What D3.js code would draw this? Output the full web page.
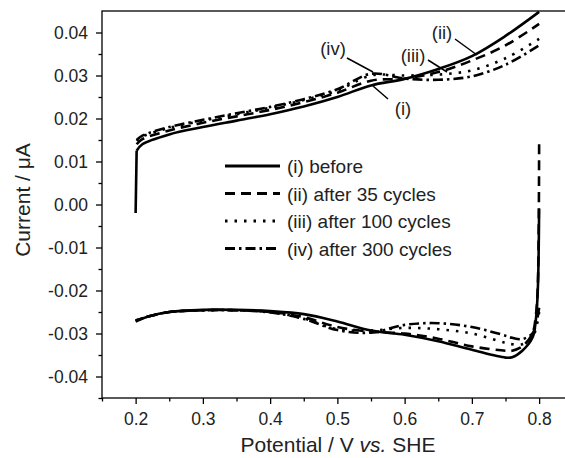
<!DOCTYPE html>
<html>
<head>
<meta charset="utf-8">
<script src="https://cdn.jsdelivr.net/npm/d3@7"></script>
<style>
	body { margin: 0; background: #fff; }
	svg { display: block; font-family: "Liberation Sans", Arial, sans-serif; }
	.axis path, .axis line { stroke: #000; stroke-width: 1.3; }
	.axis text { font-size: 17.5px; fill: #222; }
	.curve { fill: none; stroke: #000; stroke-width: 2.6; stroke-linejoin: round; }
</style>
</head>
<body>
<svg id="chart" width="565" height="458"></svg>
<script>
// upper (anodic) branches, potential in V, current in uA
const potUp = [0.2015, 0.21, 0.25, 0.3, 0.35, 0.4, 0.45, 0.5, 0.55, 0.6, 0.65, 0.7, 0.75, 0.8];
const upBefore = [0.0125, 0.0140, 0.0163, 0.0180, 0.0195, 0.0210, 0.0228, 0.0250, 0.0277, 0.0292, 0.0315, 0.0345, 0.0392, 0.0448];
const up35 = [0.0140, 0.0152, 0.0172, 0.0190, 0.0205, 0.0220, 0.0238, 0.0260, 0.0288, 0.0293, 0.0308, 0.0335, 0.0370, 0.0420];
const up100 = [0.0148, 0.0158, 0.0178, 0.0195, 0.0210, 0.0225, 0.0243, 0.0265, 0.0300, 0.0300, 0.0302, 0.0312, 0.0340, 0.0385];
const up300 = [0.0150, 0.0160, 0.0180, 0.0197, 0.0212, 0.0227, 0.0245, 0.0268, 0.0304, 0.0293, 0.0290, 0.0298, 0.0325, 0.0370];

// lower (cathodic) branches, swept back from 0.8 V
const potDown = [0.8, 0.798, 0.795, 0.79, 0.775, 0.76, 0.75, 0.7, 0.65, 0.6, 0.55, 0.5, 0.45, 0.4, 0.35, 0.3, 0.25, 0.22, 0.2];
const downBefore = [-0.001, -0.020, -0.027, -0.031, -0.0340, -0.0355, -0.0356, -0.0338, -0.0318, -0.0303, -0.0293, -0.0272, -0.0255, -0.0248, -0.0245, -0.0245, -0.0250, -0.0260, -0.0272];
const down35 = [0.014, -0.019, -0.026, -0.030, -0.0330, -0.0340, -0.0340, -0.0330, -0.0312, -0.0300, -0.0296, -0.0285, -0.0262, -0.0250, -0.0246, -0.0246, -0.0250, -0.0260, -0.0270];
const down100 = [-0.025, -0.027, -0.029, -0.031, -0.0325, -0.0325, -0.0322, -0.0300, -0.0290, -0.0287, -0.0293, -0.0290, -0.0265, -0.0250, -0.0246, -0.0246, -0.0250, -0.0260, -0.0270];
const down300 = [-0.024, -0.026, -0.028, -0.030, -0.0313, -0.0310, -0.0305, -0.0285, -0.0276, -0.0280, -0.0298, -0.0292, -0.0266, -0.0251, -0.0246, -0.0246, -0.0250, -0.0260, -0.0270];

// the "before" scan starts at rest potential with a vertical jump
const startBefore = [0.2, -0.002];

const xTicks = [0.2, 0.3, 0.4, 0.5, 0.6, 0.7, 0.8];
const yTicks = [-0.04, -0.03, -0.02, -0.01, 0.00, 0.01, 0.02, 0.03, 0.04];
const xMinor = [0.15, 0.25, 0.35, 0.45, 0.55, 0.65, 0.75, 0.85];
const yMinor = [-0.045, -0.035, -0.025, -0.015, -0.005, 0.005, 0.015, 0.025, 0.035];

const legendLabels = ["(i) before", "(ii) after 35 cycles", "(iii) after 100 cycles", "(iv) after 300 cycles"];
const dashes = [null, "10,6", "2.5,7", "10,4,2.5,4"];

const svg = d3.select("#chart");

const x = d3.scaleLinear().domain([0.15, 0.85]).range([102, 572.75]);
const y = d3.scaleLinear().domain([-0.045, 0.045]).range([398, 11]);

// frame (right side falls outside the picture, as in the original)
svg.append("rect")
	.attr("x", x(0.15)).attr("y", y(0.045))
	.attr("width", x(0.85) - x(0.15)).attr("height", y(-0.045) - y(0.045))
	.attr("fill", "none").attr("stroke", "#000").attr("stroke-width", 1.3);

const xAxis = svg.append("g").attr("class", "axis")
	.attr("transform", `translate(0,${y(-0.045)})`)
	.call(d3.axisBottom(x).tickValues(xTicks).tickSize(6).tickPadding(9).tickFormat(d3.format(".1f")));
xAxis.select(".domain").remove();
svg.append("g").attr("class", "axis")
	.attr("transform", `translate(0,${y(-0.045)})`)
	.call(d3.axisBottom(x).tickValues(xMinor).tickSize(3.5).tickFormat(""))
	.select(".domain").remove();

const yAxis = svg.append("g").attr("class", "axis")
	.attr("transform", `translate(${x(0.15)},0)`)
	.call(d3.axisLeft(y).tickValues(yTicks).tickSize(6).tickPadding(8).tickFormat(d3.format(".2f")));
yAxis.select(".domain").remove();
yAxis.selectAll("text").text(d => d3.format(".2f")(d).replace("−", "-"));
svg.append("g").attr("class", "axis")
	.attr("transform", `translate(${x(0.15)},0)`)
	.call(d3.axisLeft(y).tickValues(yMinor).tickSize(3.5).tickFormat(""))
	.select(".domain").remove();

svg.append("text")
	.attr("x", 338).attr("y", 452)
	.attr("text-anchor", "middle").attr("font-size", 21).attr("fill", "#222")
	.html('Potential / V <tspan font-style="italic">vs.</tspan> SHE');

svg.append("text")
	.attr("transform", "translate(30,200) rotate(-90)")
	.attr("text-anchor", "middle").attr("font-size", 21).attr("fill", "#222")
	.text("Current / μA");

const line = d3.line().x(d => x(d[0])).y(d => y(d[1])).curve(d3.curveCatmullRom.alpha(0.5));
const straight = d3.line().x(d => x(d[0])).y(d => y(d[1]));

const upper = [upBefore, up35, up100, up300];
const lower = [downBefore, down35, down100, down300];

const plot = svg.append("g");
// initial jump of the first scan, drawn straight
plot.append("path").attr("class", "curve")
	.attr("d", straight([startBefore, [potUp[0], upBefore[0]]]));
upper.forEach((vals, i) => {
	const pts = potUp.map((p, k) => [p, vals[k]]);
	plot.append("path").attr("class", "curve")
		.attr("d", line(pts))
		.attr("stroke-dasharray", dashes[i]);
});
lower.forEach((vals, i) => {
	const pts = potDown.map((p, k) => [p, vals[k]]);
	plot.append("path").attr("class", "curve")
		.attr("d", line(pts))
		.attr("stroke-dasharray", dashes[i]);
});

// legend
const legend = svg.append("g");
legendLabels.forEach((lab, i) => {
	const ly = 166 + i * 27.5;
	legend.append("line")
		.attr("x1", 225).attr("x2", 280).attr("y1", ly).attr("y2", ly)
		.attr("stroke", "#000").attr("stroke-width", 3)
		.attr("stroke-dasharray", dashes[i]);
	legend.append("text")
		.attr("x", 287).attr("y", ly + 7)
		.attr("font-size", 19).attr("fill", "#222")
		.text(lab);
});

// curve labels with leader lines
const notes = [
	{ t: "(iv)", tx: 333, ty: 55, x1: 347, y1: 58, x2: 373, y2: 72 },
	{ t: "(i)", tx: 403, ty: 115, x1: 373, y1: 86, x2: 388, y2: 99 },
	{ t: "(iii)", tx: 413, ty: 62, x1: 428, y1: 60, x2: 447, y2: 72 },
	{ t: "(ii)", tx: 442, ty: 39, x1: 455, y1: 39, x2: 477, y2: 55 }
];
notes.forEach(n => {
	svg.append("text").attr("x", n.tx).attr("y", n.ty)
		.attr("text-anchor", "middle").attr("font-size", 18.5).attr("fill", "#222")
		.text(n.t);
	svg.append("line").attr("x1", n.x1).attr("y1", n.y1).attr("x2", n.x2).attr("y2", n.y2)
		.attr("stroke", "#000").attr("stroke-width", 1.5);
});
</script>
</body>
</html>
